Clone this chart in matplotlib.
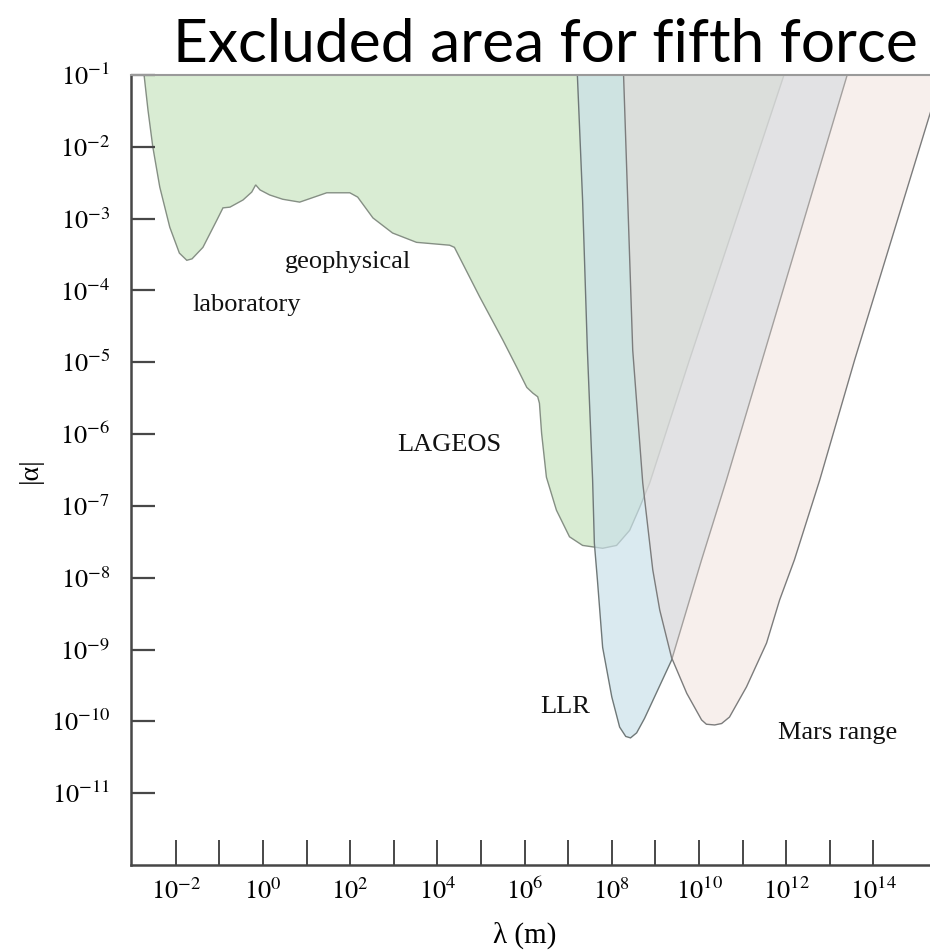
import matplotlib

matplotlib.use("Agg")
import matplotlib.pyplot as plt
import numpy as np

# Excluded regions, traced as (log10 lambda [m], log10 |alpha|) boundary points
geo_loglam = [-2.77, -2.73, -2.64, -2.53, -2.37, -2.14, -1.92, -1.75, -1.63, -1.38,
              -1.06, -0.92, -0.76, -0.46, -0.26, -0.17, -0.07, 0.15, 0.45, 0.84,
              1.46, 1.99, 2.17, 2.52, 2.97, 3.52, 4.28, 4.39, 4.97, 5.50,
              5.82, 6.05, 6.19, 6.30, 6.34, 6.39, 6.50, 6.73, 7.03, 7.33,
              7.79, 8.11, 8.41, 8.64, 8.87, 9.78, 11.95, 12.06]
geo_logalpha = [-0.80, -1.00, -1.49, -2.00, -2.56, -3.12, -3.48, -3.58, -3.56, -3.40,
                -3.02, -2.85, -2.84, -2.74, -2.63, -2.53, -2.60, -2.67, -2.73, -2.77,
                -2.64, -2.64, -2.70, -2.99, -3.20, -3.33, -3.37, -3.40, -4.09, -4.69,
                -5.07, -5.35, -5.43, -5.48, -5.57, -5.99, -6.60, -7.06, -7.43, -7.55,
                -7.59, -7.55, -7.34, -7.02, -6.68, -4.97, -1.00, -0.80]

llr_loglam = [7.20, 7.21, 7.33, 7.44, 7.56, 7.60, 7.67, 7.79, 8.00, 8.18, 8.32,
              8.43, 8.57, 8.75, 8.98, 9.37, 10.06, 10.63, 13.40, 13.50]
llr_logalpha = [-0.80, -1.00, -2.74, -4.83, -6.64, -7.52, -8.03, -8.97, -9.66, -10.08, -10.21,
                -10.23, -10.16, -9.96, -9.66, -9.15, -7.75, -6.64, -1.00, -0.80]

mars_loglam = [8.25, 8.27, 8.48, 8.71, 8.94, 9.10, 9.37, 9.72, 10.06, 10.17, 10.36,
               10.52, 10.70, 11.09, 11.55, 11.85, 12.19, 12.77, 13.57, 15.28, 15.68]
mars_logalpha = [-0.80, -1.00, -4.83, -6.68, -7.89, -8.45, -9.11, -9.61, -9.98, -10.04, -10.05,
                 -10.03, -9.94, -9.52, -8.91, -8.31, -7.75, -6.64, -4.97, -1.58, -0.80]

region_labels = ["laboratory", "geophysical", "LAGEOS", "LLR", "Mars range"]
label_loglam = [-0.37, 1.95, 4.28, 6.92, 13.18]
label_logalpha = [-4.20, -3.60, -6.15, -9.80, -10.16]

ytick_exp = list(range(-1, -12, -1))
xtick_exp = list(range(-2, 15))

plt.rcParams["mathtext.fontset"] = "stix"
SERIF = ["Liberation Serif", "DejaVu Serif"]
AXIS_COLOR = "#474747"

fig = plt.figure(figsize=(9.3, 9.52), dpi=100)
ax = fig.add_axes([131 / 930, 87 / 952, 799 / 930, 790 / 952])
ax.set_xscale("log")
ax.set_yscale("log")
ax.set_xlim(10 ** -3.03, 10 ** 15.30)
ax.set_ylim(1e-12, 1e-1)

# green first, then translucent LLR and Mars layers on top
ax.fill(10.0 ** np.array(geo_loglam), 10.0 ** np.array(geo_logalpha),
        facecolor="#d9ecd3", edgecolor="#858f84", linewidth=1.0, zorder=1)
ax.fill(10.0 ** np.array(llr_loglam), 10.0 ** np.array(llr_logalpha),
        facecolor=(201 / 255, 224 / 255, 233 / 255, 0.67), edgecolor="#6f7878",
        linewidth=1.0, zorder=2)
ax.fill(10.0 ** np.array(mars_loglam), 10.0 ** np.array(mars_logalpha),
        facecolor=(238 / 255, 217 / 255, 212 / 255, 0.42), edgecolor="#7c7c7c",
        linewidth=1.0, zorder=3)

for text, lx, la in zip(region_labels, label_loglam, label_logalpha):
    ax.text(10 ** lx, 10 ** la, text, family=SERIF, fontsize=19,
            ha="center", va="center", color="#111111", zorder=5)

ax.set_yticks([10.0 ** e for e in ytick_exp])
ax.set_yticklabels([rf"$10^{{{e}}}$" for e in ytick_exp])
ax.set_xticks([10.0 ** e for e in xtick_exp])
ax.set_xticklabels([rf"$10^{{{e}}}$" if e % 2 == 0 else "" for e in xtick_exp])
ax.minorticks_off()

ax.tick_params(axis="y", direction="in", length=17, width=1.6, color=AXIS_COLOR,
               pad=15, labelsize=19)
ax.tick_params(axis="x", direction="in", length=18, width=1.4, color=AXIS_COLOR,
               pad=10, labelsize=19)

for side in ("left", "bottom"):
    ax.spines[side].set_color(AXIS_COLOR)
    ax.spines[side].set_linewidth(1.8)
ax.spines["top"].set_color("#9a9a9a")
ax.spines["top"].set_linewidth(1.5)
ax.spines["right"].set_visible(False)
for sp in ax.spines.values():
    sp.set_zorder(6)

fig.text(30 / 930, 1 - 470 / 952, "|α|", family=SERIF, fontsize=20,
         rotation=90, ha="center", va="center")
fig.text(525 / 930, 1 - 935 / 952, "λ (m)", family=SERIF, fontsize=21,
         ha="center", va="center")
fig.text(545 / 930, 1 - 45 / 952, "Excluded area for fifth force",
         family=["Lato", "DejaVu Sans"], fontsize=43.5, ha="center", va="center")

fig.savefig("out.png", dpi=100)
plt.close(fig)
